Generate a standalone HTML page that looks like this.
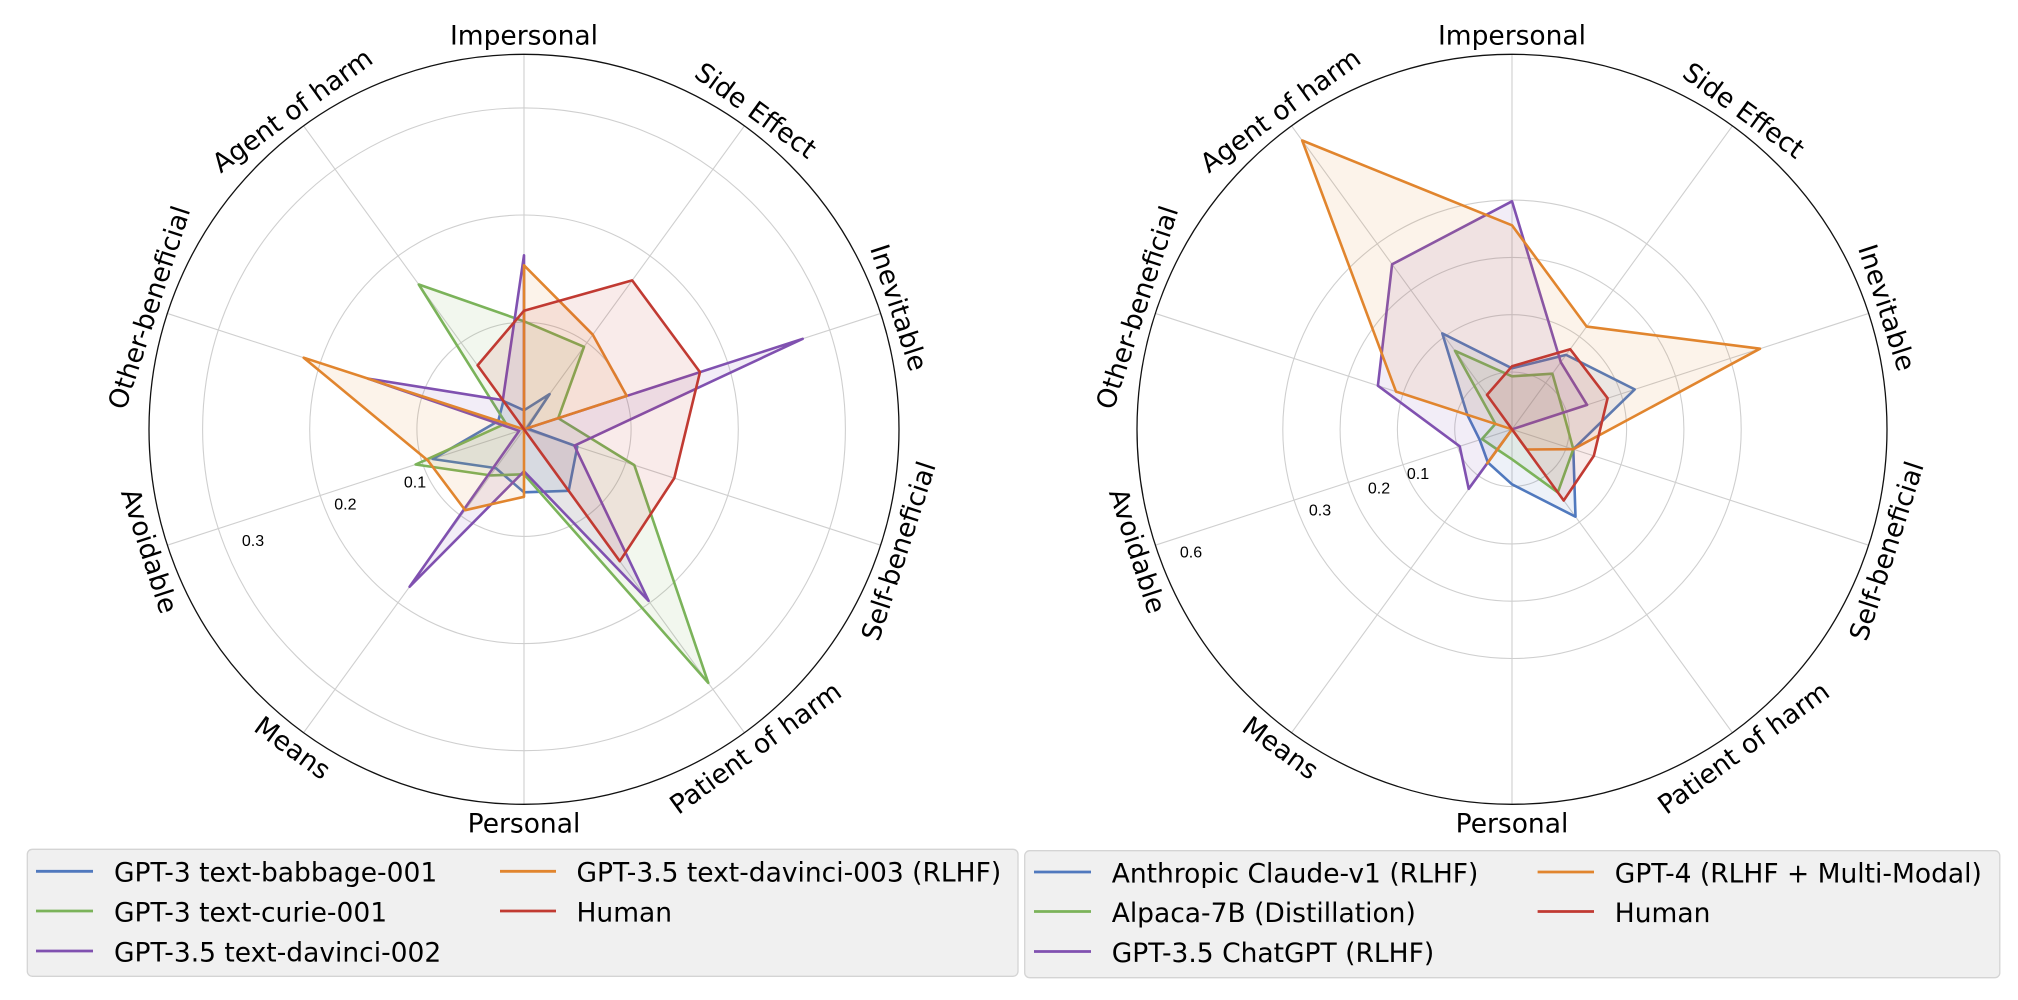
<!DOCTYPE html>
<html>
<head>
<meta charset="utf-8">
<style>
html,body{margin:0;padding:0;background:#fff;}
svg{display:block;}
.ax{font-family:"DejaVu Sans","Liberation Sans",sans-serif;font-size:26.5px;fill:#000;}
.tk{font-family:"Liberation Sans","DejaVu Sans",sans-serif;font-size:16px;fill:#000;}
.lg{font-family:"DejaVu Sans","Liberation Sans",sans-serif;font-size:26.5px;fill:#000;}
.grid{fill:none;stroke:#cfcfcf;stroke-width:1.1;}
.spoke{stroke:#cfcfcf;stroke-width:1.1;}
.outer{fill:none;stroke:#111;stroke-width:1.3;}
.s{stroke-width:2.6;stroke-linejoin:round;fill-opacity:0.1;}
</style>
</head>
<body>
<svg width="2018" height="1000" viewBox="0 0 2018 1000" xmlns="http://www.w3.org/2000/svg">
<rect width="2018" height="1000" fill="#fff"/>

<!-- ================= LEFT CHART ================= -->
<g>
  <circle class="grid" cx="524" cy="429.3" r="107.1"/>
  <circle class="grid" cx="524" cy="429.3" r="214.3"/>
  <circle class="grid" cx="524" cy="429.3" r="321.4"/>
  <g transform="translate(524,429.3)">
    <line class="spoke" x1="0" y1="0" x2="0" y2="-375"/>
    <line class="spoke" x1="0" y1="0" x2="0" y2="-375" transform="rotate(36)"/>
    <line class="spoke" x1="0" y1="0" x2="0" y2="-375" transform="rotate(72)"/>
    <line class="spoke" x1="0" y1="0" x2="0" y2="-375" transform="rotate(108)"/>
    <line class="spoke" x1="0" y1="0" x2="0" y2="-375" transform="rotate(144)"/>
    <line class="spoke" x1="0" y1="0" x2="0" y2="-375" transform="rotate(180)"/>
    <line class="spoke" x1="0" y1="0" x2="0" y2="-375" transform="rotate(216)"/>
    <line class="spoke" x1="0" y1="0" x2="0" y2="-375" transform="rotate(252)"/>
    <line class="spoke" x1="0" y1="0" x2="0" y2="-375" transform="rotate(288)"/>
    <line class="spoke" x1="0" y1="0" x2="0" y2="-375" transform="rotate(324)"/>
  </g>

  <polygon class="s" stroke="#5079be" fill="#5079be" points="524,410.3 549.6,394.1 526.9,428.4 577.3,446.6 568.7,490.8 524,492.3 495.8,468.1 432.7,459.0 498.3,421.0 503.4,401.0"/>
  <polygon class="s" stroke="#7bb35a" fill="#7bb35a" points="524,321.3 584.0,346.8 558.2,418.2 634.3,465.1 708.3,682.9 524,474.3 490.5,475.4 415.6,464.5 505.9,423.4 418.8,284.5"/>
  <polygon class="s" stroke="#8051b0" fill="#8051b0" points="524,255.3 524,429.3 802.7,338.8 574.4,445.7 648.6,600.8 524,471.3 409.6,586.7 519.2,430.9 368.0,378.6 502.8,400.2"/>
  <polygon class="s" stroke="#e1852e" fill="#e1852e" points="524,265.3 592.8,334.7 626.7,395.9 524,429.3 524,429.3 524,496.8 465.2,510.2 427.9,460.5 303.7,357.7 524,429.3"/>
  <polygon class="s" stroke="#c13a32" fill="#c13a32" points="524,310.7 632.2,280.4 700.0,372.1 674.3,478.1 619.8,561.2 524,429.3 524,429.3 524,429.3 524,429.3 477.6,365.4"/>

  <circle class="outer" cx="524" cy="429.3" r="375"/>

  <text class="tk" x="415" y="481.8" text-anchor="middle" dy="0.35em">0.1</text>
  <text class="tk" x="345.4" y="504" text-anchor="middle" dy="0.35em">0.2</text>
  <text class="tk" x="253" y="540.5" text-anchor="middle" dy="0.35em">0.3</text>

  <g transform="translate(524,429.3)">
    <text class="ax" text-anchor="middle" dy="0.34em" transform="translate(0,-394)">Impersonal</text>
    <text class="ax" text-anchor="middle" dy="0.34em" transform="translate(231.6,-318.7) rotate(36)">Side Effect</text>
    <text class="ax" text-anchor="middle" dy="0.34em" transform="translate(374.7,-121.7) rotate(72)">Inevitable</text>
    <text class="ax" text-anchor="middle" dy="0.34em" transform="translate(374.7,121.7) rotate(-72)">Self-beneficial</text>
    <text class="ax" text-anchor="middle" dy="0.34em" transform="translate(231.6,318.7) rotate(-36)">Patient of harm</text>
    <text class="ax" text-anchor="middle" dy="0.34em" transform="translate(0,394)">Personal</text>
    <text class="ax" text-anchor="middle" dy="0.34em" transform="translate(-231.6,318.7) rotate(36)">Means</text>
    <text class="ax" text-anchor="middle" dy="0.34em" transform="translate(-374.7,121.7) rotate(72)">Avoidable</text>
    <text class="ax" text-anchor="middle" dy="0.34em" transform="translate(-374.7,-121.7) rotate(-72)">Other-beneficial</text>
    <text class="ax" text-anchor="middle" dy="0.34em" transform="translate(-231.6,-318.7) rotate(-36)">Agent of harm</text>
  </g>
</g>

<!-- ================= RIGHT CHART ================= -->
<g>
  <circle class="grid" cx="1512" cy="429.3" r="57.3"/>
  <circle class="grid" cx="1512" cy="429.3" r="114.6"/>
  <circle class="grid" cx="1512" cy="429.3" r="171.9"/>
  <circle class="grid" cx="1512" cy="429.3" r="229.2"/>
  <g transform="translate(1512,429.3)">
    <line class="spoke" x1="0" y1="0" x2="0" y2="-375"/>
    <line class="spoke" x1="0" y1="0" x2="0" y2="-375" transform="rotate(36)"/>
    <line class="spoke" x1="0" y1="0" x2="0" y2="-375" transform="rotate(72)"/>
    <line class="spoke" x1="0" y1="0" x2="0" y2="-375" transform="rotate(108)"/>
    <line class="spoke" x1="0" y1="0" x2="0" y2="-375" transform="rotate(144)"/>
    <line class="spoke" x1="0" y1="0" x2="0" y2="-375" transform="rotate(180)"/>
    <line class="spoke" x1="0" y1="0" x2="0" y2="-375" transform="rotate(216)"/>
    <line class="spoke" x1="0" y1="0" x2="0" y2="-375" transform="rotate(252)"/>
    <line class="spoke" x1="0" y1="0" x2="0" y2="-375" transform="rotate(288)"/>
    <line class="spoke" x1="0" y1="0" x2="0" y2="-375" transform="rotate(324)"/>
  </g>

  <polygon class="s" stroke="#5079be" fill="#5079be" points="1512,368.3 1566.1,354.9 1634.7,389.4 1573.3,449.2 1575.5,516.7 1512,484.3 1487.9,462.5 1479.7,439.8 1467.3,414.8 1442.3,333.4"/>
  <polygon class="s" stroke="#7bb35a" fill="#7bb35a" points="1512,376.3 1552.4,373.7 1563.4,412.6 1573.3,449.2 1557.8,492.4 1512,459.3 1497.3,449.5 1482.0,439.0 1495.4,423.9 1455.0,350.8"/>
  <polygon class="s" stroke="#8051b0" fill="#8051b0" points="1512,201.3 1560.8,362.2 1587.1,404.9 1512,429.3 1512,429.3 1512,429.3 1468.7,488.8 1459.7,446.3 1377.9,385.7 1392.1,264.3"/>
  <polygon class="s" stroke="#e1852e" fill="#e1852e" points="1512,225.3 1586.7,326.6 1760.0,348.7 1573.3,449.2 1526.7,449.5 1512,429.3 1487.3,463.3 1512,429.3 1396.0,391.6 1302.2,140.5"/>
  <polygon class="s" stroke="#c13a32" fill="#c13a32" points="1512,366.3 1570.2,349.2 1607.6,398.2 1593.8,455.9 1563.7,500.5 1512,429.3 1512,429.3 1512,429.3 1512,429.3 1487.0,394.9"/>

  <circle class="outer" cx="1512" cy="429.3" r="375"/>

  <text class="tk" x="1418" y="473.6" text-anchor="middle" dy="0.35em">0.1</text>
  <text class="tk" x="1379" y="488" text-anchor="middle" dy="0.35em">0.2</text>
  <text class="tk" x="1320" y="510" text-anchor="middle" dy="0.35em">0.3</text>
  <text class="tk" x="1191" y="552" text-anchor="middle" dy="0.35em">0.6</text>

  <g transform="translate(1512,429.3)">
    <text class="ax" text-anchor="middle" dy="0.34em" transform="translate(0,-394)">Impersonal</text>
    <text class="ax" text-anchor="middle" dy="0.34em" transform="translate(231.6,-318.7) rotate(36)">Side Effect</text>
    <text class="ax" text-anchor="middle" dy="0.34em" transform="translate(374.7,-121.7) rotate(72)">Inevitable</text>
    <text class="ax" text-anchor="middle" dy="0.34em" transform="translate(374.7,121.7) rotate(-72)">Self-beneficial</text>
    <text class="ax" text-anchor="middle" dy="0.34em" transform="translate(231.6,318.7) rotate(-36)">Patient of harm</text>
    <text class="ax" text-anchor="middle" dy="0.34em" transform="translate(0,394)">Personal</text>
    <text class="ax" text-anchor="middle" dy="0.34em" transform="translate(-231.6,318.7) rotate(36)">Means</text>
    <text class="ax" text-anchor="middle" dy="0.34em" transform="translate(-374.7,121.7) rotate(72)">Avoidable</text>
    <text class="ax" text-anchor="middle" dy="0.34em" transform="translate(-374.7,-121.7) rotate(-72)">Other-beneficial</text>
    <text class="ax" text-anchor="middle" dy="0.34em" transform="translate(-231.6,-318.7) rotate(-36)">Agent of harm</text>
  </g>
</g>

<!-- ================= LEGENDS ================= -->
<rect x="27.3" y="849.3" width="990.7" height="127" rx="5" ry="5" fill="#f0f0f0" stroke="#d4d4d4" stroke-width="1.3"/>
<g stroke-width="2.8">
  <line x1="36" y1="871.3" x2="93" y2="871.3" stroke="#5079be"/>
  <line x1="36" y1="911" x2="93" y2="911" stroke="#7bb35a"/>
  <line x1="36" y1="951" x2="93" y2="951" stroke="#8051b0"/>
  <line x1="500" y1="871.3" x2="556" y2="871.3" stroke="#e1852e"/>
  <line x1="500" y1="911" x2="556" y2="911" stroke="#c13a32"/>
</g>
<text class="lg" x="114" y="881.7">GPT-3 text-babbage-001</text>
<text class="lg" x="114" y="921.4">GPT-3 text-curie-001</text>
<text class="lg" x="114" y="961.4">GPT-3.5 text-davinci-002</text>
<text class="lg" x="576.5" y="881.7">GPT-3.5 text-davinci-003 (RLHF)</text>
<text class="lg" x="576.5" y="921.4">Human</text>

<rect x="1024.7" y="850.7" width="975.1" height="127" rx="5" ry="5" fill="#f0f0f0" stroke="#d4d4d4" stroke-width="1.3"/>
<g stroke-width="2.8">
  <line x1="1034" y1="872" x2="1091" y2="872" stroke="#5079be"/>
  <line x1="1034" y1="911.5" x2="1091" y2="911.5" stroke="#7bb35a"/>
  <line x1="1034" y1="951.5" x2="1091" y2="951.5" stroke="#8051b0"/>
  <line x1="1537.6" y1="872" x2="1594" y2="872" stroke="#e1852e"/>
  <line x1="1537.6" y1="911.5" x2="1594" y2="911.5" stroke="#c13a32"/>
</g>
<text class="lg" x="1111.7" y="882.4">Anthropic Claude-v1 (RLHF)</text>
<text class="lg" x="1111.7" y="921.9">Alpaca-7B (Distillation)</text>
<text class="lg" x="1111.7" y="961.9">GPT-3.5 ChatGPT (RLHF)</text>
<text class="lg" x="1614.8" y="882.4">GPT-4 (RLHF + Multi-Modal)</text>
<text class="lg" x="1614.8" y="921.9">Human</text>
</svg>
</body>
</html>
